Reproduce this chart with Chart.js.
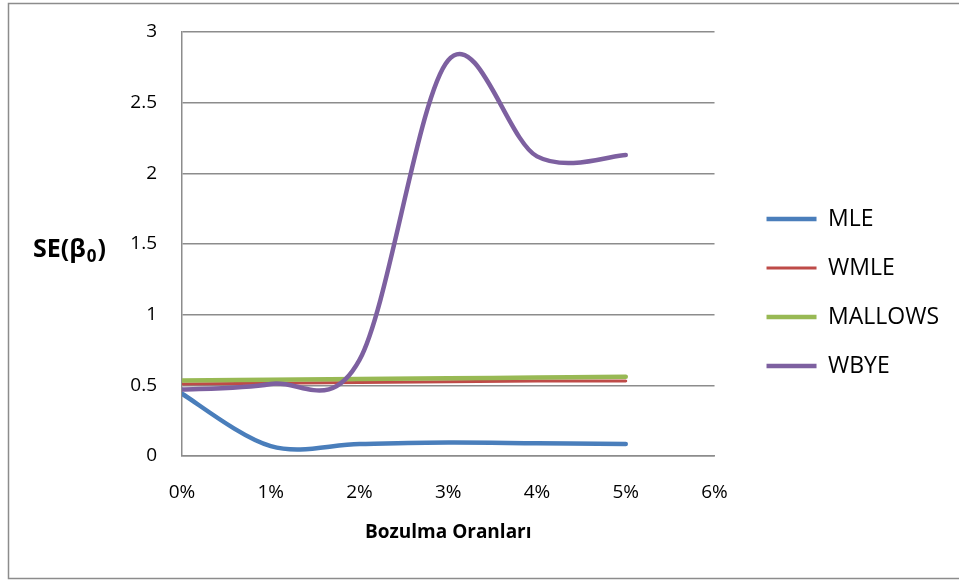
<!DOCTYPE html>
<html>
<head>
<meta charset="utf-8">
<script src="https://cdn.jsdelivr.net/npm/chart.js@4/dist/chart.umd.min.js"></script>
<style>
  html, body { margin:0; padding:0; background:#fff; }
  #wrap { width:959px; height:581px; position:relative; }
</style>
</head>
<body>
<div id="wrap"><canvas id="c" width="959" height="581"></canvas></div>
<script>
// ---- data (x in %) ----
const rates   = [0, 1, 2, 3, 4, 5];
const mle     = [0.44, 0.07, 0.085, 0.095, 0.09, 0.085];
const wmle    = [0.51, 0.515, 0.52, 0.525, 0.53, 0.53];
const mallows = [0.535, 0.54, 0.545, 0.55, 0.555, 0.56];
const wbye    = [0.47, 0.51, 0.68, 2.8, 2.12, 2.13];
const seriesNames = ["MLE", "WMLE", "MALLOWS", "WBYE"];
const seriesColors = ["#4a7ebb", "#be4b48", "#98b954", "#7d60a0"];

const FONT = "'Open Sans', 'DejaVu Sans', sans-serif";
const GRID = "#8c8c8c";

function pts(vals){ return rates.map((x,i)=>({x:x, y:vals[i]})); }

const allSeries = [mle, wmle, mallows, wbye];
const datasets = allSeries.map((vals,i)=>({
  label: seriesNames[i],
  data: pts(vals),
  borderColor: seriesColors[i],
  backgroundColor: seriesColors[i],
  borderWidth: i===1 ? 3 : 4.5,
  borderCapStyle: "round",
  borderJoinStyle: "round",
  pointRadius: 0,
  pointHoverRadius: 0,
  tension: 0.4,
  fill: false,
  order: 4 - i   // later series drawn on top, like the original
}));

// Excel-style smoothing: uniform Catmull-Rom control points from the scaled points
const smooth = {
  id: "smooth",
  beforeDatasetDraw(chart, args){
    const meta = args.meta;
    const p = meta.data, n = p.length;
    for (let i=0;i<n;i++){
      const a = p[Math.max(i-1,0)], b = p[Math.min(i+1,n-1)];
      const dx = (b.x - a.x)/6, dy = (b.y - a.y)/6;
      p[i].cp1x = p[i].x - dx; p[i].cp1y = p[i].y - dy;
      p[i].cp2x = p[i].x + dx; p[i].cp2y = p[i].y + dy;
    }
    meta.dataset._pointsUpdated = true;
  }
};

// chart frame, legend offset, y title (SE(β0) with subscript)
const extras = {
  id: "extras",
  beforeDraw(chart){
    const ctx = chart.ctx;
    ctx.save();
    ctx.strokeStyle = "#8c8c8c";
    ctx.lineWidth = 1.5;
    ctx.strokeRect(8.5, 3.5, 960, 575);
    ctx.restore();
  },
  afterLayout(chart){
    const lg = chart.legend;
    lg.left += 26; lg.right += 26;
    lg.top -= 14; lg.bottom -= 14;
  },
  afterDraw(chart){
    const ctx = chart.ctx;
    ctx.save();
    ctx.fillStyle = "#000";
    ctx.textBaseline = "alphabetic";
    ctx.font = "bold 25px " + FONT;
    let x = 33, y = 257;
    const a = "SE(\u03b2";
    ctx.fillText(a, x, y);
    x += ctx.measureText(a).width + 1;
    ctx.font = "bold 17px " + FONT;
    ctx.fillText("0", x, y + 5);
    x += ctx.measureText("0").width + 1;
    ctx.font = "bold 25px " + FONT;
    ctx.fillText(")", x, y);
    ctx.restore();
  }
};

new Chart(document.getElementById("c"), {
  type: "line",
  data: { datasets: datasets },
  plugins: [smooth, extras],
  options: {
    responsive: false,
    animation: false,
    devicePixelRatio: 1,
    layout: { padding: { top: 32, right: 36, bottom: 0, left: 0 } },
    plugins: {
      tooltip: { enabled: false },
      legend: {
        position: "right",
        labels: {
          usePointStyle: true,
          pointStyle: "line",
          pointStyleWidth: 50,
          padding: 26,
          color: "#000",
          font: { family: FONT, size: 23 },
          sort: (a, b) => a.datasetIndex - b.datasetIndex
        }
      }
    },
    scales: {
      x: {
        type: "linear",
        min: 0, max: 6,
        afterFit: s => { s.height = 125; },
        grid: { display: false, drawTicks: false },
        border: { display: true, color: GRID, width: 1.5 },
        ticks: {
          stepSize: 1, padding: 25, color: "#000",
          font: { family: FONT, size: 19 },
          callback: v => v + "%"
        },
        title: {
          display: true, text: "Bozulma Oranları", color: "#000",
          font: { family: FONT, size: 19, weight: "bold" },
          padding: { top: 0, bottom: 37 }
        }
      },
      y: {
        min: 0, max: 3,
        afterFit: s => { s.width = 182; s.paddingTop = 12; s.paddingBottom = 12; },
        grid: { color: GRID, lineWidth: 1.5, drawTicks: false },
        border: { display: true, color: GRID, width: 1.5 },
        ticks: {
          stepSize: 0.5, padding: 25, color: "#000",
          font: { family: FONT, size: 19 },
          callback: v => String(v)
        }
      }
    }
  }
});
</script>
</body>
</html>
